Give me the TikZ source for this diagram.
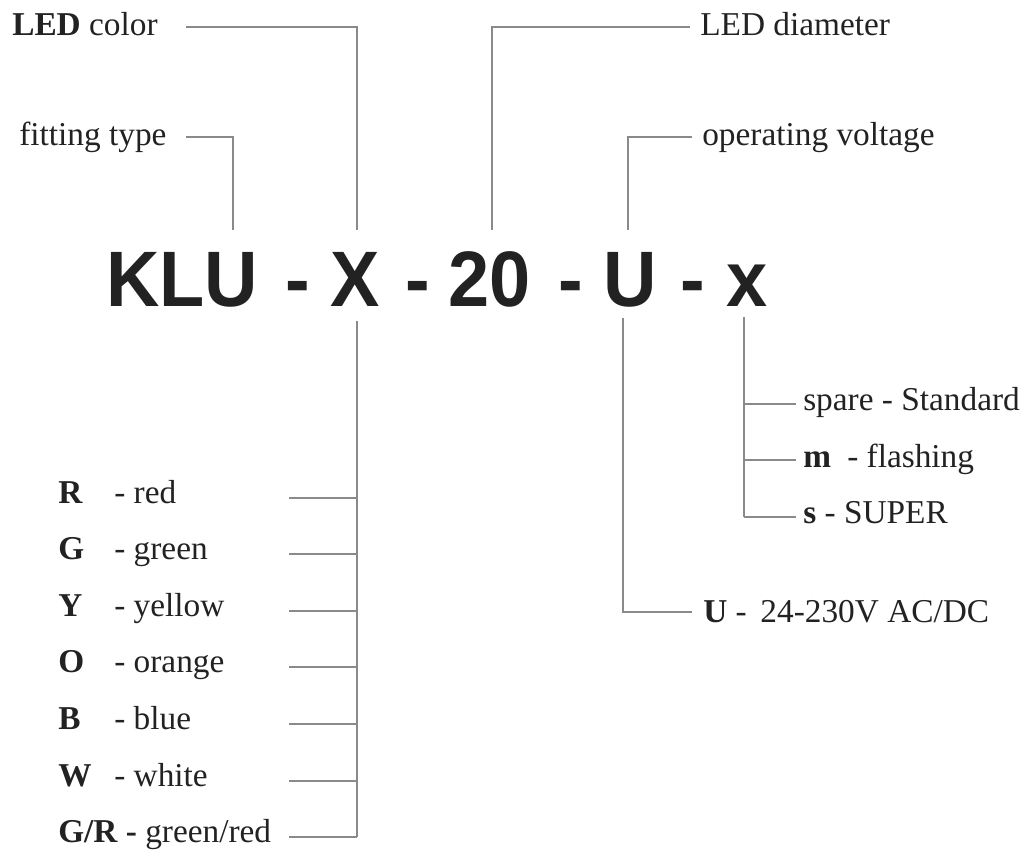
\documentclass[tikz,border=0pt]{standalone}
\usepackage{fontspec}
\setmainfont{Liberation Serif}
\newfontfamily\bigfont{Liberation Sans}
\definecolor{txt}{HTML}{222222}
\definecolor{ln}{HTML}{8A8A8A}
\newcommand{\bigtxt}[1]{\scalebox{0.94}[1]{#1}}
\begin{document}
\begin{tikzpicture}[x=0.75pt,y=-0.75pt,
  lbl/.style={anchor=base west,inner sep=0pt,text=txt,font=\fontsize{25pt}{30pt}\selectfont},
  big/.style={anchor=base,inner sep=0pt,text=txt,font=\bigfont\bfseries\fontsize{59pt}{64pt}\selectfont},
  conn/.style={draw=ln,line width=1.1pt}]
\useasboundingbox (0,0) rectangle (1023,851);
% code
\node[big] (klu) at (182,306) {\bigtxt{KLU}};
\node[big] (d1) at (297.5,306) {\bigtxt{-}};
\node[big] (cx) at (355,306) {\bigtxt{X}};
\node[big] (d2) at (418,306) {\bigtxt{-}};
\node[big] (c20) at (490,306) {\bigtxt{20}};
\node[big] (d3) at (570.5,306) {\bigtxt{-}};
\node[big] (cu) at (630,306) {\bigtxt{U}};
\node[big] (d4) at (693,306) {\bigtxt{-}};
\node[big] (cxs) at (747,306) {\bigtxt{x}};
% top labels
\node[lbl] (ledcolor) at (12,35) {\textbf{LED} color};
\node[lbl] (fitting) at (19,145) {fitting type};
\node[lbl] (leddia) at (700,35) {LED diameter};
\node[lbl] (opvolt) at (702,145) {operating voltage};
% top connector coordinates
\coordinate (lcA) at (186,27);
\coordinate (lcB) at (357,230);
\coordinate (ftA) at (186,137);
\coordinate (ftB) at (233,230);
\coordinate (ldA) at (690,27);
\coordinate (ldB) at (492,230);
\coordinate (ovA) at (692,137);
\coordinate (ovB) at (628,230);
\draw[conn] (lcA) -| (lcB);
\draw[conn] (ftA) -| (ftB);
\draw[conn] (ldA) -| (ldB);
\draw[conn] (ovA) -| (ovB);
% colour list
\coordinate (xbt) at (357,321);
\coordinate (xbb) at (357,837);
\draw[conn] (xbt) -- (xbb);
\foreach \n/\y/\l/\t in {r/498/R/red, g/554/G/green, y/611/Y/yellow, o/667/O/orange, b/724/B/blue, w/781/W/white}{
  \node[lbl] (col\n) at (58,\y+5) {\makebox[42pt][l]{\textbf{\l}}- \t};
  \coordinate (cl\n) at (289,\y);
  \coordinate (cr\n) at (357,\y);
  \draw[conn] (cl\n) -- (cr\n);
}
\node[lbl] (colgr) at (58,842) {\textbf{G/R -} green/red};
\coordinate (clgr) at (289,837);
\draw[conn] (clgr) -- (xbb);
% x options
\coordinate (sxt) at (744,317);
\coordinate (sxb) at (744,517);
\draw[conn] (sxt) -- (sxb);
\coordinate (sa) at (796,404);
\coordinate (sm) at (796,460);
\coordinate (sma) at (744,460);
\coordinate (ssa) at (744,404);
\coordinate (ss) at (796,517);
\draw[conn] (ssa) -- (sa);
\draw[conn] (sma) -- (sm);
\draw[conn] (sxb) -- (ss);
\node[lbl] (spare) at (803,410) {spare - Standard};
\node[lbl] (flash) at (803,467) {\makebox[33pt][l]{\textbf{m}}- flashing};
\node[lbl] (super) at (803,523) {\textbf{s} - SUPER};
% U option
\coordinate (ut) at (623,318);
\coordinate (ub) at (692,612);
\draw[conn] (ut) |- (ub);
\node[lbl] (uvolt) at (703,622) {\textbf{U} -\hspace{4pt} 24-230V AC/DC};
\end{tikzpicture}
\end{document}
